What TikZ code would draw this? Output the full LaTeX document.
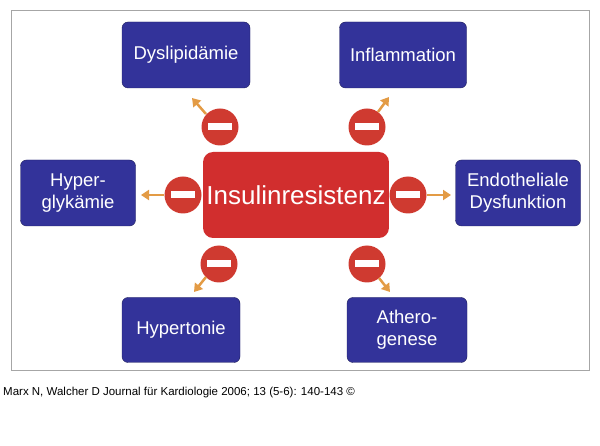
\documentclass[tikz,border=0pt]{standalone}
\usepackage{fontspec}
\setmainfont{Liberation Sans}
\usetikzlibrary{arrows.meta,calc}
\definecolor{bx}{HTML}{33339A}
\definecolor{rd}{HTML}{D12E2E}
\definecolor{cr}{HTML}{CF3A30}
\definecolor{og}{HTML}{E39B45}
\begin{document}
\begin{tikzpicture}[x=1pt,y=-1pt,
 bb/.style={fill=bx,draw=bx!60!black,rounded corners=6pt,text=white,font=\fontsize{18.5}{22}\selectfont,align=center,inner sep=0pt},
 stopc/.style={circle,fill=cr,minimum size=37pt,inner sep=0pt},
 ar/.style={draw=og,line width=2.5pt,-{Triangle[length=8pt,width=10pt]}}]
\useasboundingbox (0,0) rectangle (600,446);
\draw[gray!70] (11,10) rectangle (589,370);
\node[bb,minimum width=128pt,minimum height=66pt] (dys) at (186,55) {Dyslipidämie};
\node[bb,minimum width=127pt,minimum height=66pt] (inf) at (403,55) {Inflammation};
\node[bb,minimum width=115pt,minimum height=66pt] (hyp) at (78,193) {Hyper-\\glykämie};
\node[bb,minimum width=125pt,minimum height=66pt] (end) at (518,193) {Endotheliale\\Dysfunktion};
\node[bb,minimum width=118pt,minimum height=65pt] (ton) at (181,330) {Hypertonie};
\node[bb,minimum width=120pt,minimum height=65pt] (ath) at (407,330) {Athero-\\genese};
\node[fill=rd,rounded corners=10pt,minimum width=184pt,minimum height=86pt,text=white,font=\fontsize{26}{30}\selectfont] (ins) at (296,195) {Insulinresistenz};
\foreach \n/\p in {c1/{220,127},c2/{367,127},c3/{183,195},c4/{408,195},c5/{219,264},c6/{367,264}}{
  \node[stopc] (\n) at (\p) {};
  \fill[white] ($(\n)+(-12,-3.5)$) rectangle ($(\n)+(12,3.5)$);
}
\coordinate (t1) at (192,98); \coordinate (t2) at (389,97);
\coordinate (t3) at (141,195); \coordinate (t4) at (451,195);
\coordinate (t5) at (194,292); \coordinate (t6) at (390,292);
\draw[ar] (c1) ++(-14,-13) -- (t1);
\draw[ar] (c2) ++(11,-15) -- (t2);
\draw[ar] (c3) ++(-19,0) -- (t3);
\draw[ar] (c4) ++(19,0) -- (t4);
\draw[ar] (c5) ++(-13,13) -- (t5);
\draw[ar] (c6) ++(12,14) -- (t6);
\node[anchor=west,font=\fontsize{11.5}{13}\selectfont,inner sep=0pt] (cap) at (3,393) {Marx N, Walcher D Journal für Kardiologie 2006; 13 (5-6): 140-143 ©};
\end{tikzpicture}
\end{document}
